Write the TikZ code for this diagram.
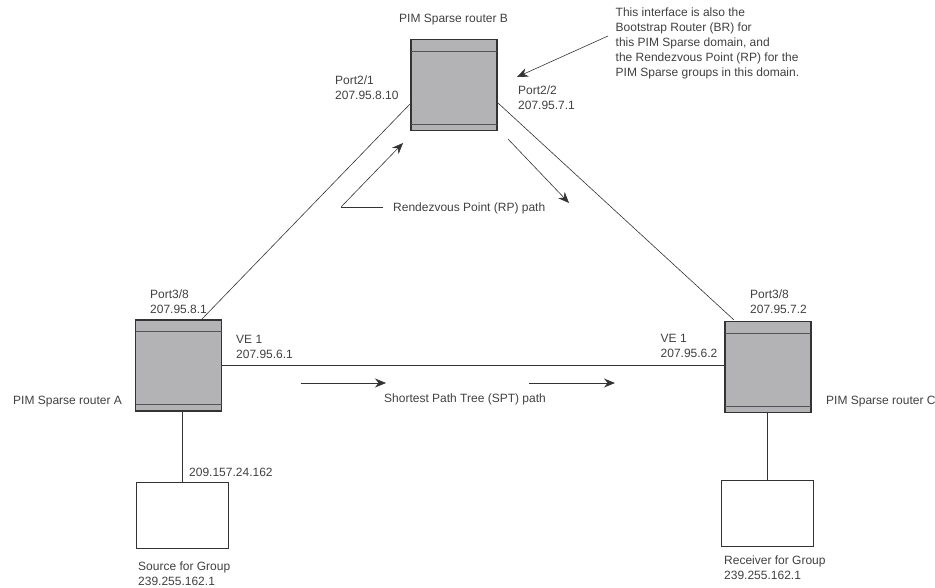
\documentclass[tikz,border=0pt]{standalone}
\usepackage{fontspec}
\setmainfont{Liberation Sans}
\usetikzlibrary{arrows.meta}
\definecolor{routergray}{HTML}{B3B3B5}
\definecolor{inkgray}{HTML}{333333}
\definecolor{textgray}{HTML}{404040}
\tikzset{
    routerbox/.style={draw=inkgray, line width=1.8pt, fill=routergray, minimum width=86pt, minimum height=91pt, inner sep=0pt},
    hostbox/.style={draw=inkgray, line width=0.8pt, fill=white, minimum width=92pt, minimum height=66pt, inner sep=0pt},
    lbl/.style={font=\fontsize{12}{14.8}\selectfont, text=textgray, align=left, inner sep=0pt},
    link/.style={draw=inkgray, line width=0.6pt},
    heavylink/.style={draw=inkgray, line width=1.2pt},
    bandline/.style={draw=inkgray!85, line width=0.9pt},
    flow/.style={draw=inkgray, line width=0.6pt, -{Stealth[length=11pt,width=9pt]}},
    heavyflow/.style={draw=inkgray, line width=1pt, -{Stealth[length=11pt,width=9pt]}}
}
\begin{document}
\begin{tikzpicture}[x=1pt, y=-1pt]
        \useasboundingbox (0, 0) rectangle (935, 587);

        % Routers
        \node[routerbox] (routerA) at (178.5, 365.5) {};
        \node[routerbox] (routerB) at (454, 85) {};
        \node[routerbox] (routerC) at (768, 367) {};
        \draw[bandline] (135.5, 331) -- (221.5, 331);
        \draw[bandline] (135.5, 404) -- (221.5, 404);
        \draw[bandline] (411, 51) -- (497, 51);
        \draw[bandline] (411, 124) -- (497, 124);
        \draw[bandline] (725, 333) -- (811, 333);
        \draw[bandline] (725, 406) -- (811, 406);

        % Hosts
        \node[hostbox] (source) at (182.5, 515) {};
        \node[hostbox] (receiver) at (767.5, 513.5) {};

        % Links
        \coordinate (portA) at (202, 319);
        \coordinate (portBA) at (410, 104);
        \coordinate (portBC) at (498, 103);
        \coordinate (portC) at (734, 320);
        \draw[link] (portA) -- (portBA);
        \draw[link] (portBC) -- (portC);
        \draw[heavylink] (routerA.east) -- (routerC.west |- routerA.east);
        \draw[heavylink] (routerA.south -| source.north) -- (source.north);
        \draw[heavylink] (routerC.south -| receiver.north) -- (receiver.north);

        % RP path arrows
        \coordinate (rpEnd) at (383, 207);
        \coordinate (rpCorner) at (341, 207);
        \coordinate (rpTip) at (403, 143);
        \coordinate (rpStart) at (508, 139);
        \coordinate (rpStop) at (569, 203);
        \draw[link] (rpEnd) -- (rpCorner);
        \draw[flow] (rpCorner) -- (rpTip);
        \draw[flow] (rpStart) -- (rpStop);

        % SPT path arrows
        \coordinate (sptA) at (300.5, 383);
        \coordinate (sptB) at (386, 383);
        \coordinate (sptC) at (529, 383);
        \coordinate (sptD) at (615, 383);
        \draw[flow] (sptA) -- (sptB);
        \draw[heavyflow] (sptC) -- (sptD);

        % Note pointing at port
        \coordinate (noteStart) at (608, 36);
        \coordinate (noteTip) at (517, 77);
        \draw[flow] (noteStart) -- (noteTip);

        % Labels
        \node[lbl, anchor=west] (nameB) at (399, 20) {PIM Sparse router B};
        \node[lbl, anchor=west] (nameA) at (13, 402) {PIM Sparse router A};
        \node[lbl, anchor=west] (nameC) at (826, 402) {PIM Sparse router C};
        \node[lbl, anchor=north west] (note) at (615.5, 8) {This interface is also the\\Bootstrap Router (BR) for\\this PIM Sparse domain, and\\the Rendezvous Point (RP) for the\\PIM Sparse groups in this domain.};
        \node[lbl, anchor=north west] (port21) at (335, 76) {Port2/1\\207.95.8.10};
        \node[lbl, anchor=north west] (port22) at (518, 86) {Port2/2\\207.95.7.1};
        \node[lbl, anchor=north west] (port38A) at (150, 290) {Port3/8\\207.95.8.1};
        \node[lbl, anchor=north west] (port38C) at (750, 290) {Port3/8\\207.95.7.2};
        \node[lbl, anchor=north west] (ve1A) at (236, 335.5) {VE 1\\207.95.6.1};
        \node[lbl, anchor=north west] (ve1C) at (660.5, 334.5) {VE 1\\207.95.6.2};
        \node[lbl, anchor=west] (rpLabel) at (393, 208) {Rendezvous Point (RP) path};
        \node[lbl, anchor=west] (sptLabel) at (384, 399) {Shortest Path Tree (SPT) path};
        \node[lbl, anchor=west] (hostIp) at (189, 472) {209.157.24.162};
        \node[lbl, anchor=north west] (sourceLabel) at (138, 562) {Source for Group\\239.255.162.1};
        \node[lbl, anchor=north west] (receiverLabel) at (724, 556) {Receiver for Group\\239.255.162.1};
    \end{tikzpicture}
\end{document}
